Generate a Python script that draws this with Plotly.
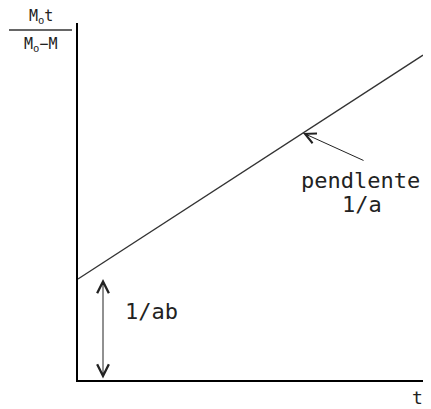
import plotly.graph_objects as go

# recta M0*t/(M0-M) frente a t
t_vals = [0.0, 1.0]
y_vals = [0.283, 0.910]

intercept_x = 0.0725
intercept_y = y_vals[0]

slope_head = [0.652, 0.692]
slope_tail = [0.832, 0.613]

font = "DejaVu Sans Mono, monospace"
ink = "#222"

# la página añade 8 px de margen; se trabaja en píxeles de la página
OFF = 8
W, H = 415, 409
ML, MR, MT, MB = 78 - OFF, 0, 23 - OFF, H - (380 - OFF)
pw, ph = W - ML - MR, H - MT - MB


def px(xp):
    return (xp - OFF - ML) / pw


def py(yp):
    return (H - MB - (yp - OFF)) / ph


def label(x, y, text, size=22):
    fig.add_annotation(x=px(x), y=py(y), xref="paper", yref="paper", text=text,
                       xanchor="center", yanchor="middle", showarrow=False,
                       font=dict(family=font, size=size, color=ink))


fig = go.Figure()
fig.add_trace(go.Scatter(x=t_vals, y=y_vals, mode="lines",
                         line=dict(color="#333", width=1.3),
                         hoverinfo="skip", showlegend=False))

# flecha doble de la ordenada en el origen
fig.add_annotation(x=intercept_x, y=intercept_y, ax=intercept_x, ay=0,
                   xref="x", yref="y", axref="x", ayref="y", text="",
                   showarrow=True, arrowhead=5, startarrowhead=5,
                   arrowside="end+start", arrowsize=2.3, startarrowsize=2.3,
                   arrowwidth=1.0, arrowcolor=ink)
label(151, 311, "1/ab")

# flecha de la pendiente
fig.add_annotation(x=slope_head[0], y=slope_head[1], ax=slope_tail[0], ay=slope_tail[1],
                   xref="x", yref="y", axref="x", ayref="y", text="",
                   showarrow=True, arrowhead=5, arrowsize=2.1, arrowwidth=1.0,
                   arrowcolor=ink)
label(360, 180, "pendlente")
label(362, 204, "1/a")

# etiquetas de los ejes
label(417, 397, "t", 18)
label(41, 16, "M<sub>o</sub>t", 15)
label(40, 44, "M<sub>o</sub>\u2212M", 15)
fig.add_shape(type="line", xref="paper", yref="paper", x0=px(9), x1=px(72),
              y0=py(30), y1=py(30), line=dict(color="#333", width=1.5))

fig.update_layout(
    width=W, height=H,
    margin=dict(l=ML, r=MR, t=MT, b=MB, autoexpand=False),
    paper_bgcolor="white", plot_bgcolor="white",
    xaxis=dict(range=[0, 1], showline=True, linecolor="black", linewidth=2,
               showgrid=False, zeroline=False, showticklabels=False, ticks=""),
    yaxis=dict(range=[0, 1], showline=True, linecolor="black", linewidth=2,
               showgrid=False, zeroline=False, showticklabels=False, ticks=""),
)

fig.write_html("out.html")
